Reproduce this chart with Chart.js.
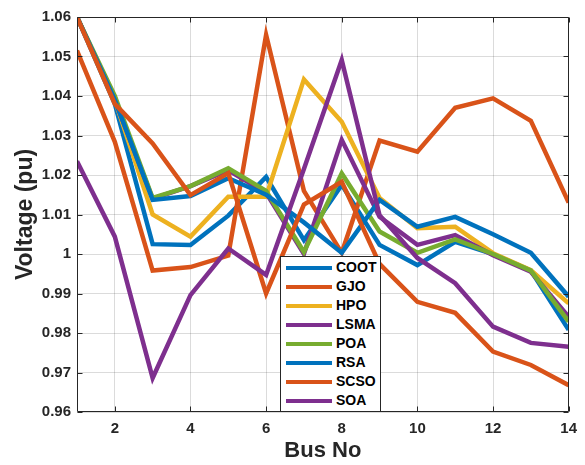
<!DOCTYPE html>
<html>
<head>
<meta charset="utf-8">
<script src="https://cdn.jsdelivr.net/npm/chart.js@4.4.0/dist/chart.umd.min.js"></script>
<style>
  body { margin: 0; background: #fff; }
  #wrap { position: relative; width: 585px; height: 465px; }
  #legend {
    position: absolute; left: 280px; top: 256px; width: 99px; height: 154px;
    border: 1px solid #262626; background: #fff;
    font: bold 14px "Liberation Sans", Arial, sans-serif; color: #000;
  }
  .row { position: absolute; left: 0; width: 99px; height: 19px; line-height: 19px; }
  .swatch { position: absolute; left: 5px; top: 7.5px; width: 46px; height: 4px; }
  .label { position: absolute; left: 55px; white-space: nowrap; }
</style>
</head>
<body>
<div id="wrap">
  <canvas id="myChart"></canvas>
  <div id="legend"></div>
</div>
<script>
// data
const busNo = [1, 2, 3, 4, 5, 6, 7, 8, 9, 10, 11, 12, 13, 14];
const seriesNames = ['COOT', 'GJO', 'HPO', 'LSMA', 'POA', 'RSA', 'SCSO', 'SOA'];
const seriesColors = ['#0072BD', '#D95319', '#EDB120', '#7E2F8E', '#77AC30', '#0072BD', '#D95319', '#7E2F8E'];

const coot = [1.060, 1.038, 1.0025, 1.0023, 1.0097, 1.0195, 1.0035, 1.0175, 1.0023, 0.9972, 1.0031, 1.0000, 0.9958, 0.9808];
const gjo  = [1.0515, 1.0284, 0.9958, 0.9967, 0.9996, 1.0555, 1.0160, 1.0003, 1.0287, 1.0259, 1.0370, 1.0394, 1.0337, 1.0130];
const hpo  = [1.060, 1.039, 1.0100, 1.0044, 1.0145, 1.0145, 1.0442, 1.0335, 1.0142, 1.0065, 1.0069, 1.0002, 0.9959, 0.9875];
const lsma = [1.060, 1.039, 1.0140, 1.0172, 1.0212, 1.0155, 1.0000, 1.0289, 1.0094, 1.0023, 1.0048, 0.9997, 0.9955, 0.9841];
const poa  = [1.060, 1.040, 1.0142, 1.0172, 1.0217, 1.0160, 1.0005, 1.0204, 1.0057, 1.0003, 1.0037, 1.0000, 0.9958, 0.9829];
const rsa  = [1.060, 1.039, 1.0137, 1.0147, 1.0192, 1.0150, 1.0080, 1.0003, 1.0137, 1.0069, 1.0094, 1.0050, 1.0003, 0.9892];
const scso = [1.060, 1.038, 1.0280, 1.0149, 1.0205, 0.9900, 1.0125, 1.0183, 0.9975, 0.9879, 0.9851, 0.9753, 0.9719, 0.9668];
const soa  = [1.0235, 1.0044, 0.9686, 0.9896, 1.0014, 0.9947, 1.0215, 1.0491, 1.0098, 0.9990, 0.9926, 0.9816, 0.9775, 0.9765];
const allSeries = [coot, gjo, hpo, lsma, poa, rsa, scso, soa];

const xTicks = [2, 4, 6, 8, 10, 12, 14];
const yTicks = [0.96, 0.97, 0.98, 0.99, 1.00, 1.01, 1.02, 1.03, 1.04, 1.05, 1.06];
const yTickLabels = ['0.96', '0.97', '0.98', '0.99', '1', '1.01', '1.02', '1.03', '1.04', '1.05', '1.06'];

const axisColor = '#262626';
const fontFamily = '"Liberation Sans", Arial, Helvetica, sans-serif';

// box round the plot with inward ticks on all four sides (matlab style)
const boxTicks = {
  id: 'boxTicks',
  afterDraw(chart) {
    const ctx = chart.ctx;
    const a = chart.chartArea;
    const xs = chart.scales.x, ys = chart.scales.y;
    const L = Math.round(a.left) + 0.5, R = Math.round(a.right) - 0.5;
    const T = Math.round(a.top) + 0.5, B = Math.round(a.bottom) - 0.5;
    const len = 5;
    ctx.save();
    ctx.strokeStyle = axisColor;
    ctx.lineWidth = 1;
    ctx.beginPath();
    ctx.rect(L, T, R - L, B - T);
    xTicks.forEach(v => {
      const px = Math.round(xs.getPixelForValue(v)) + 0.5;
      ctx.moveTo(px, T); ctx.lineTo(px, T + len);
      ctx.moveTo(px, B); ctx.lineTo(px, B - len);
    });
    yTicks.forEach(v => {
      const py = Math.round(ys.getPixelForValue(v)) + 0.5;
      ctx.moveTo(L, py); ctx.lineTo(L + len, py);
      ctx.moveTo(R, py); ctx.lineTo(R - len, py);
    });
    ctx.stroke();
    ctx.restore();
  }
};

const datasets = allSeries.map((vals, i) => ({
  label: seriesNames[i],
  data: busNo.map((b, j) => ({ x: b, y: vals[j] })),
  borderColor: seriesColors[i],
  backgroundColor: seriesColors[i],
  borderWidth: 4.5,
  pointRadius: 0,
  tension: 0,
  fill: false,
  order: allSeries.length - 1 - i   // later series drawn on top
}));

const ctx = document.getElementById('myChart').getContext('2d');
const chart = new Chart(ctx, {
  type: 'line',
  data: { datasets: datasets },
  options: {
    responsive: true,
    maintainAspectRatio: false,
    animation: false,
    layout: { padding: { top: 17, right: 6, left: 0, bottom: 0 } },
    plugins: { legend: { display: false }, tooltip: { enabled: false } },
    scales: {
      x: {
        type: 'linear',
        min: 1,
        max: 14,
        afterBuildTicks: axis => { axis.ticks = xTicks.map(v => ({ value: v })); },
        afterFit: axis => { axis.height = 53; },
        grid: { color: 'rgba(0,0,0,0.14)', drawTicks: false },
        border: { display: false },
        ticks: {
          padding: 8,
          color: axisColor,
          font: { family: fontFamily, size: 15, weight: 'bold' },
          maxRotation: 0
        },
        title: {
          display: true,
          text: 'Bus No',
          color: axisColor,
          padding: { top: 0, bottom: 1 },
          font: { family: fontFamily, size: 22, weight: 'bold' }
        }
      },
      y: {
        min: 0.96,
        max: 1.06,
        afterBuildTicks: axis => { axis.ticks = yTicks.map(v => ({ value: v })); },
        afterFit: axis => { axis.width = 77; },
        grid: { color: 'rgba(0,0,0,0.14)', drawTicks: false },
        border: { display: false },
        ticks: {
          padding: 6,
          color: axisColor,
          font: { family: fontFamily, size: 15, weight: 'bold' },
          callback: (v, i) => yTickLabels[i]
        },
        title: {
          display: true,
          text: 'Voltage (pu)',
          color: axisColor,
          padding: { top: 12, bottom: 0 },
          font: { family: fontFamily, size: 23, weight: 'bold' }
        }
      }
    }
  },
  plugins: [boxTicks]
});

// legend box inside the plot, built from the same arrays
const legend = document.getElementById('legend');
seriesNames.forEach((name, i) => {
  const row = document.createElement('div');
  row.className = 'row';
  row.style.top = (1 + 19 * i) + 'px';
  const sw = document.createElement('span');
  sw.className = 'swatch';
  sw.style.background = seriesColors[i];
  const lb = document.createElement('span');
  lb.className = 'label';
  lb.textContent = name;
  row.appendChild(sw);
  row.appendChild(lb);
  legend.appendChild(row);
});
</script>
</body>
</html>
